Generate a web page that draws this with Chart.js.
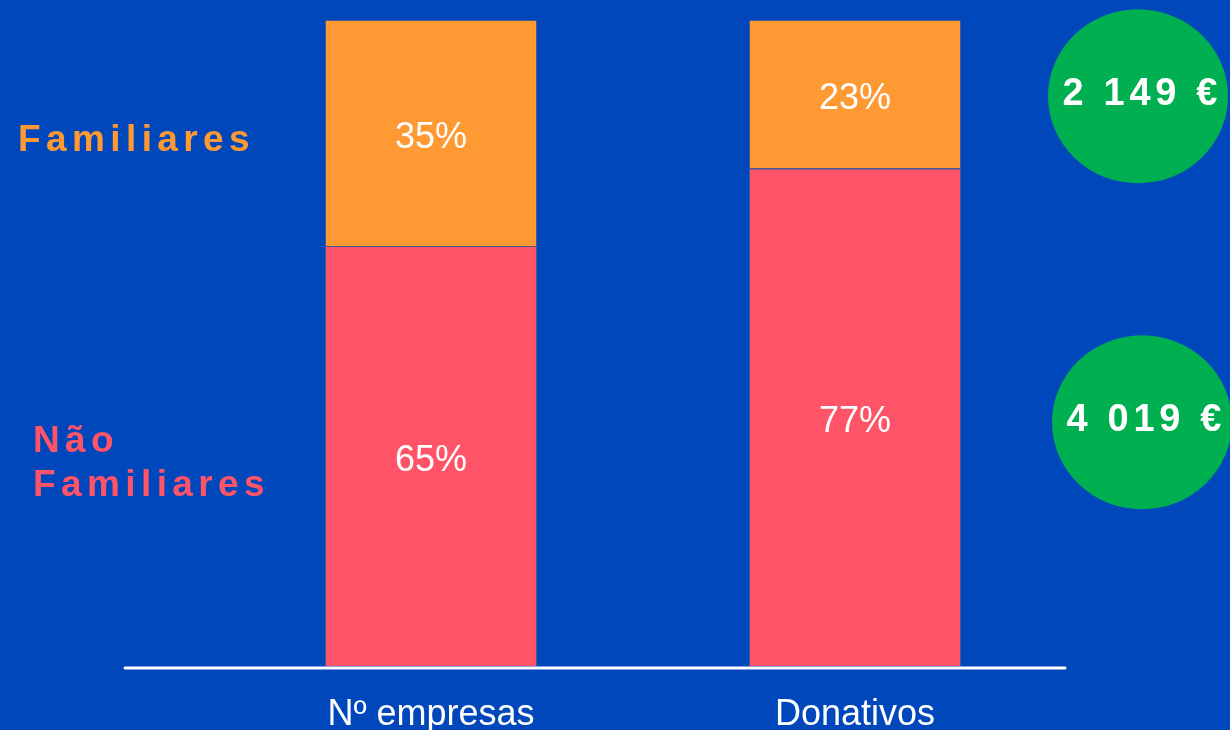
<!DOCTYPE html>
<html>
<head>
<meta charset="utf-8">
<script src="https://cdn.jsdelivr.net/npm/chart.js@4.4.0/dist/chart.umd.min.js"></script>
<style>
  html, body { margin: 0; padding: 0; background: #0047BB; }
  #wrap { width: 1230px; height: 730px; }
</style>
</head>
<body>
<div id="wrap"><canvas id="familyChart"></canvas></div>
<script>
// ===================================
// DATA
// ===================================
const categories = ['Nº empresas', 'Donativos'];
const naoFamiliares = [65, 77];
const familiares = [35, 23];
const seriesNames = ['Não Familiares', 'Familiares'];
const donativoMedio = ['4 019 €', '2 149 €']; // same order as seriesNames

const BG = '#0047BB';
const ORANGE = '#FF9933';
const PINK = '#FF5468';
const GREEN = '#00AF50';

// draws text with extra space between letters, starting at x (left aligned)
function spacedText(ctx, text, x, y, spacing) {
    for (const ch of text) {
        ctx.fillText(ch, x, y);
        x += ctx.measureText(ch).width + spacing;
    }
}
function spacedWidth(ctx, text, spacing) {
    let w = 0;
    for (const ch of text) w += ctx.measureText(ch).width + spacing;
    return w - spacing;
}

// --- custom drawing: axis line, value labels, side labels, circles ---
const decorPlugin = {
    id: 'decor',
    beforeDraw(chart) {
        const ctx = chart.ctx;
        ctx.save();
        ctx.fillStyle = BG;
        ctx.fillRect(0, 0, chart.width, chart.height);
        ctx.restore();
    },
    afterDatasetsDraw(chart) {
        const ctx = chart.ctx;
        const area = chart.chartArea;
        ctx.save();

        // base line
        ctx.strokeStyle = '#ffffff';
        ctx.lineWidth = 3;
        ctx.lineCap = 'round';
        ctx.beginPath();
        ctx.moveTo(area.left - 94, area.bottom + 2);
        ctx.lineTo(area.right - 2, area.bottom + 2);
        ctx.stroke();

        // percentages inside the bars
        ctx.fillStyle = '#ffffff';
        ctx.font = '36px "Liberation Sans", Arial, sans-serif';
        ctx.textAlign = 'center';
        ctx.textBaseline = 'middle';
        chart.data.datasets.forEach((ds, di) => {
            chart.getDatasetMeta(di).data.forEach((bar, i) => {
                const cy = (bar.y + bar.base) / 2;
                ctx.fillText(ds.data[i] + '%', bar.x, cy + 5);
            });
        });

        // series names on the left, beside the first bar
        ctx.textAlign = 'left';
        ctx.font = 'bold 37px "Liberation Sans", Arial, sans-serif';
        chart.data.datasets.forEach((ds, di) => {
            const bar = chart.getDatasetMeta(di).data[0];
            const cy = (bar.y + bar.base) / 2 + 8;
            const lines = ds.label.split(' ');
            const lh = 44;
            const x0 = lines.length > 1 ? 33 : 18;
            ctx.fillStyle = ds.backgroundColor;
            lines.forEach((ln, k) => {
                const y = cy + (k - (lines.length - 1) / 2) * lh;
                spacedText(ctx, ln, x0, y, 5.4);
            });
        });

        // green circles with the average donation, beside the second bar
        chart.data.datasets.forEach((ds, di) => {
            const bar = chart.getDatasetMeta(di).data[1];
            const cy = (bar.y + bar.base) / 2 + (di === 0 ? 5 : 2);
            const cx = di === 0 ? 1142 : 1138;
            ctx.fillStyle = GREEN;
            ctx.beginPath();
            ctx.ellipse(cx, cy, 90, 87, 0, 0, Math.PI * 2);
            ctx.fill();
            ctx.fillStyle = '#ffffff';
            ctx.font = 'bold 38px "Liberation Sans", Arial, sans-serif';
            const txt = donativoMedio[di];
            const w = spacedWidth(ctx, txt, 4.7);
            spacedText(ctx, txt, cx + 2 - w / 2, cy - 2, 4.7);
        });

        ctx.restore();
    }
};

const familyConfig = {
    type: 'bar',
    data: {
        labels: categories,
        datasets: [
            {
                label: seriesNames[0],
                data: naoFamiliares,
                backgroundColor: PINK,
                borderColor: 'rgba(120, 100, 120, 0.6)',
                borderWidth: 1
            },
            {
                label: seriesNames[1],
                data: familiares,
                backgroundColor: ORANGE,
                borderColor: 'rgba(120, 100, 120, 0.6)',
                borderWidth: 1
            }
        ]
    },
    options: {
        responsive: true,
        maintainAspectRatio: false,
        animation: false,
        layout: {
            padding: { left: 219, right: 163, top: 20, bottom: 0 }
        },
        datasets: {
            bar: { categoryPercentage: 1.0, barPercentage: 0.5 }
        },
        plugins: {
            legend: { display: false },
            tooltip: { enabled: false }
        },
        scales: {
            x: {
                stacked: true,
                grid: { display: false, drawTicks: false },
                border: { display: false },
                ticks: {
                    color: '#ffffff',
                    padding: 27,
                    font: { family: '"Liberation Sans", Arial, sans-serif', size: 36 }
                },
                afterFit: (scale) => { scale.height = 64; }
            },
            y: {
                stacked: true,
                display: false,
                min: 0,
                max: 100
            }
        }
    },
    plugins: [decorPlugin]
};

// --- Render Chart ---
const ctxFam = document.getElementById('familyChart').getContext('2d');
new Chart(ctxFam, familyConfig);
</script>
</body>
</html>
